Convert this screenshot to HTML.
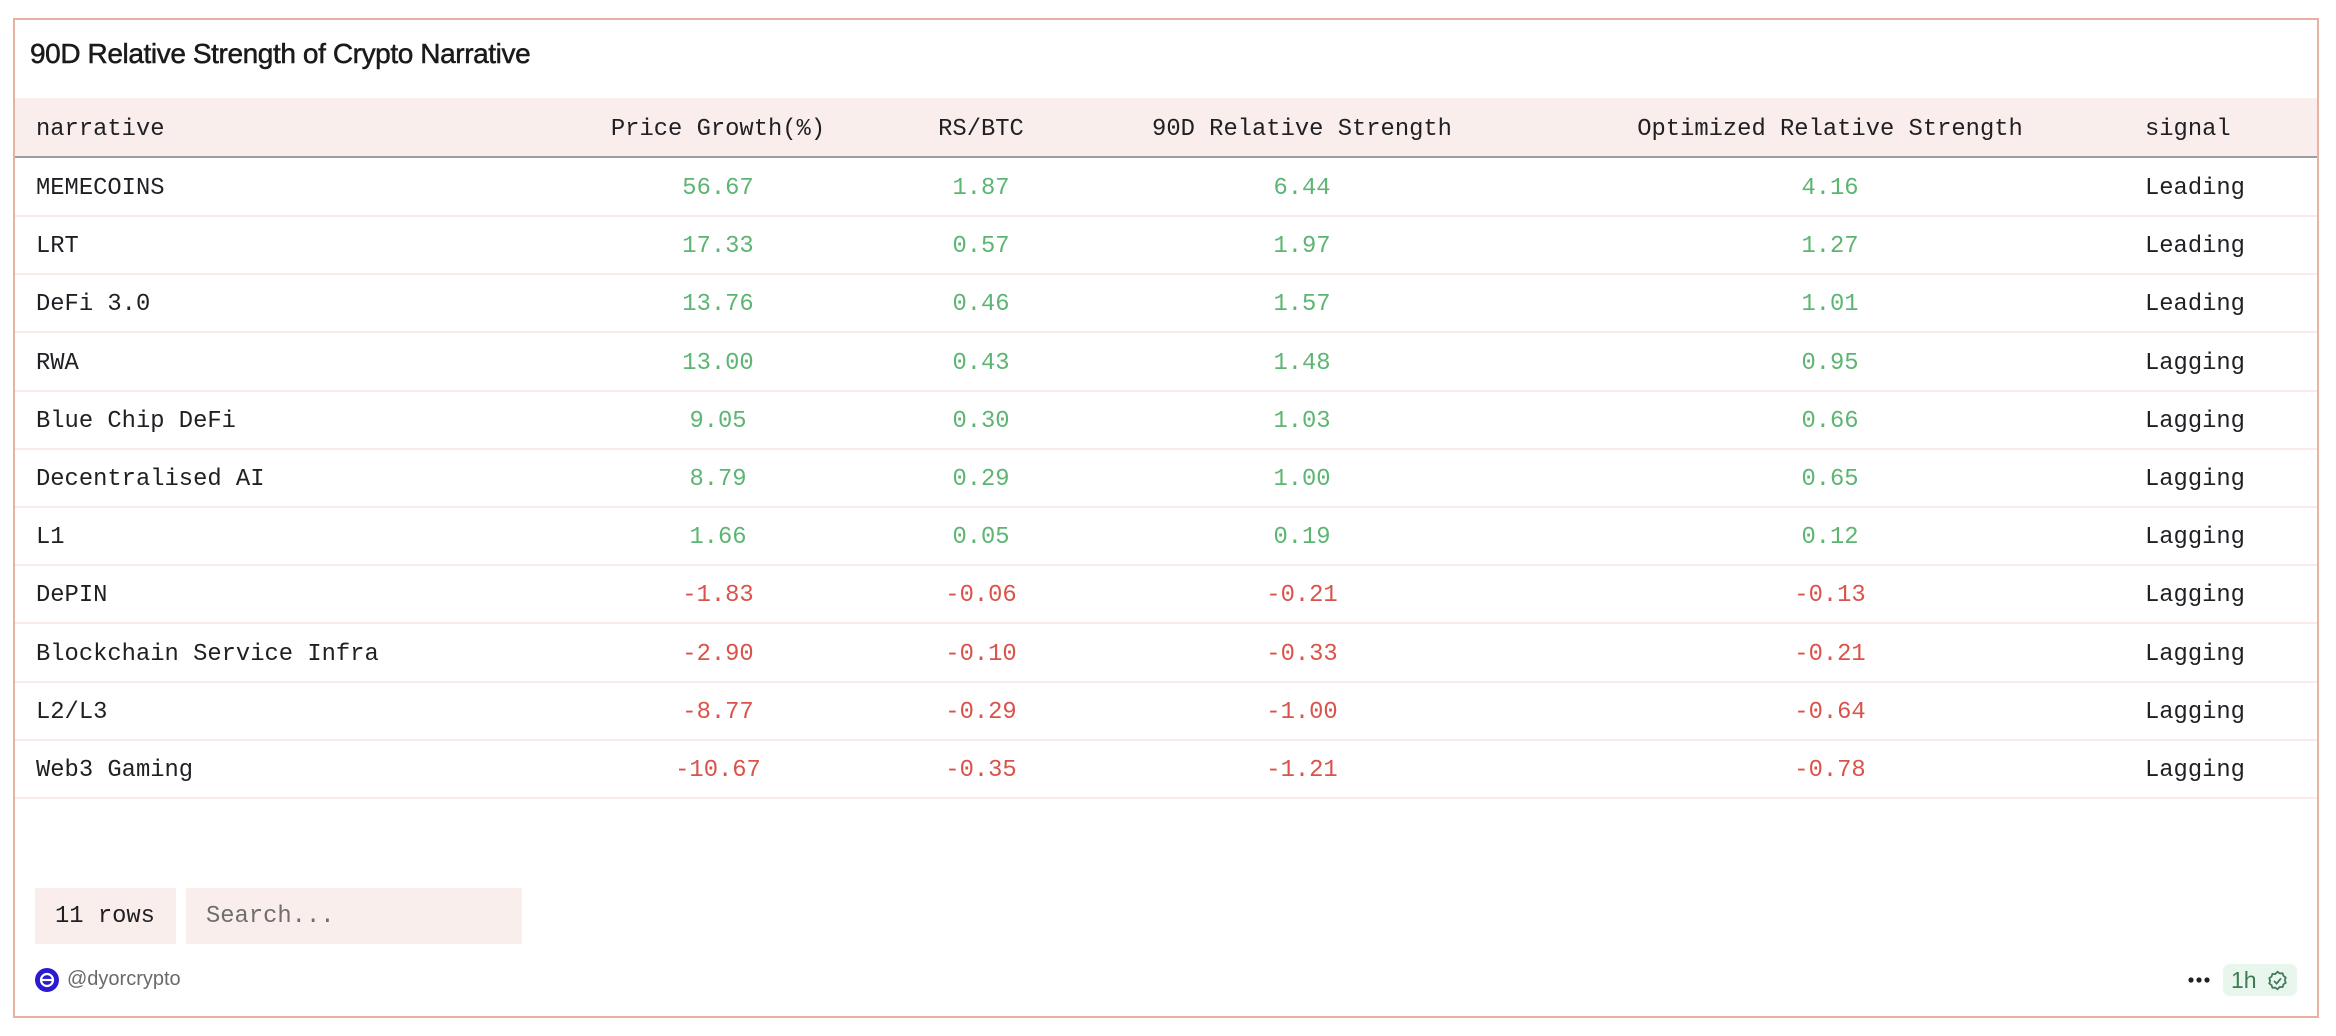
<!DOCTYPE html>
<html><head><meta charset="utf-8"><style>
html,body{margin:0;padding:0;background:#fff;width:2336px;height:1036px;overflow:hidden}
.card{position:absolute;left:13px;top:18px;width:2302px;height:996px;border:2px solid #e8b1a2;}
.t{position:absolute;white-space:nowrap}
.title{left:30px;top:38px;font:28px "Liberation Sans",sans-serif;color:#1a1a1a;letter-spacing:-0.4px;-webkit-text-stroke:0.5px #1a1a1a}
.hdr{position:absolute;left:15px;top:98px;width:2302px;height:58px;background:#f9eeeb;border-bottom:2px solid #9e9ea2}
.m{font-family:"Liberation Mono",monospace;font-size:23.8px;line-height:28px}
.row{position:absolute;left:15px;width:2302px;height:57px;border-bottom:2px solid #f8ebe8}
.c{transform:translateX(-50%)}
.g{color:#5cb572}.r{color:#d9534a}.k{color:#1f1f24}
</style></head><body>
<div class="card"></div>
<div class="t title">90D Relative Strength of Crypto Narrative</div>
<div class="hdr"></div>
<div class="t m k" style="left:36px;top:116px">narrative</div>
<div class="t m k c" style="left:718px;top:116px">Price Growth(%)</div>
<div class="t m k c" style="left:981px;top:116px">RS/BTC</div>
<div class="t m k c" style="left:1302px;top:116px">90D Relative Strength</div>
<div class="t m k c" style="left:1830px;top:116px">Optimized Relative Strength</div>
<div class="t m k" style="left:2145px;top:116px">signal</div>
<div id="rows"></div>
<script>
var d=[["MEMECOINS","56.67","1.87","6.44","4.16","Leading"],["LRT","17.33","0.57","1.97","1.27","Leading"],["DeFi 3.0","13.76","0.46","1.57","1.01","Leading"],["RWA","13.00","0.43","1.48","0.95","Lagging"],["Blue Chip DeFi","9.05","0.30","1.03","0.66","Lagging"],["Decentralised AI","8.79","0.29","1.00","0.65","Lagging"],["L1","1.66","0.05","0.19","0.12","Lagging"],["DePIN","-1.83","-0.06","-0.21","-0.13","Lagging"],["Blockchain Service Infra","-2.90","-0.10","-0.33","-0.21","Lagging"],["L2/L3","-8.77","-0.29","-1.00","-0.64","Lagging"],["Web3 Gaming","-10.67","-0.35","-1.21","-0.78","Lagging"]];
var h="",cx=[718,981,1302,1830];
d.forEach(function(r,i){var top=158+i*58.2;h+='<div class="row" style="top:'+top+'px"></div>';var ty=top+17;
h+='<div class="t m k" style="left:36px;top:'+ty+'px">'+r[0]+'</div>';
for(var j=0;j<4;j++){var cl=r[j+1][0]=="-"?"r":"g";h+='<div class="t m c '+cl+'" style="left:'+cx[j]+'px;top:'+ty+'px">'+r[j+1]+'</div>';}
h+='<div class="t m k" style="left:2145px;top:'+ty+'px">'+r[5]+'</div>';});
document.getElementById("rows").innerHTML=h;
</script>
<div class="t" style="left:35px;top:888px;width:141px;height:56px;background:#f9eeeb"></div>
<div class="t m k" style="left:55px;top:903px">11 rows</div>
<div class="t" style="left:186px;top:888px;width:336px;height:56px;background:#f9eeeb"></div>
<div class="t m" style="left:206px;top:903px;color:#6e6e6e">Search...</div>
<svg class="t" style="left:35px;top:968px" width="24" height="24" viewBox="0 0 24 24"><circle cx="12" cy="12" r="12" fill="#2a1bd0"/><circle cx="12" cy="12" r="6" fill="none" stroke="#fff" stroke-width="2.2"/><line x1="7" y1="12" x2="17" y2="12" stroke="#fff" stroke-width="2.2"/></svg>
<div class="t" style="left:67px;top:968px;font:20px 'Liberation Sans',sans-serif;color:#6a6a6a">@dyorcrypto</div>
<svg class="t" style="left:2188px;top:976px" width="22" height="8"><circle cx="3" cy="4" r="2.6" fill="#222"/><circle cx="11" cy="4" r="2.6" fill="#222"/><circle cx="19" cy="4" r="2.6" fill="#222"/></svg>
<div class="t" style="left:2223px;top:964px;width:74px;height:32px;background:#e8f6ee;border-radius:7px"></div>
<div class="t" style="left:2231px;top:967px;font:23px 'Liberation Sans',sans-serif;color:#3f7a55">1h</div>
<svg class="t" style="left:2267px;top:970px" width="21" height="21" viewBox="0 0 24 24"><path d="M12 2l2.6 1.9 3.2-.2 1 3 2.6 1.9-1 3 1 3-2.6 1.9-1 3-3.2-.2L12 22l-2.6-1.9-3.2.2-1-3-2.6-1.9 1-3-1-3 2.6-1.9 1-3 3.2.2z" fill="none" stroke="#3f7a55" stroke-width="2"/><path d="M8 12.5l3 3 5-6" fill="none" stroke="#3f7a55" stroke-width="2"/></svg>
</body></html>
